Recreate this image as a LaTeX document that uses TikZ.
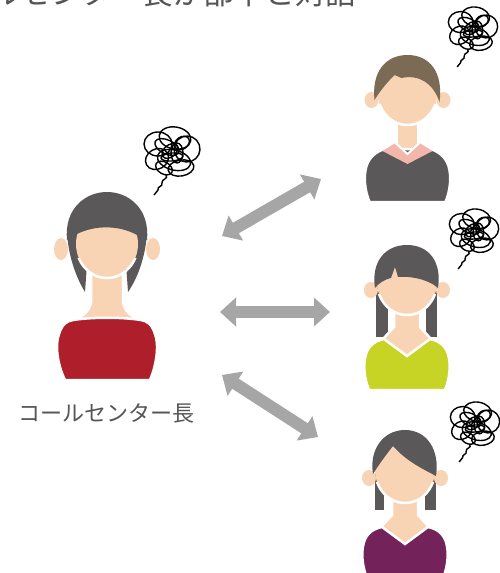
\documentclass[tikz,border=0pt]{standalone}
\usepackage{fontspec}
\newfontfamily\jpfont{Noto Sans CJK JP}
\usetikzlibrary{arrows.meta,positioning}

\definecolor{skin}{HTML}{F9D4B4}
\definecolor{hairgray}{HTML}{5B5859}
\definecolor{hairbrown}{HTML}{7B6B55}
\definecolor{shirtred}{HTML}{AF1F2B}
\definecolor{shirtgray}{HTML}{5B5859}
\definecolor{collarpink}{HTML}{F2B7AA}
\definecolor{shirtlime}{HTML}{C8D425}
\definecolor{shirtplum}{HTML}{73225A}
\definecolor{arrowgray}{HTML}{A6A6A6}
\definecolor{textgray}{HTML}{555555}

% tangled worry lines, #1 centre, #2 scale
\newcommand{\scribble}[2]{%
  \begin{scope}[shift={#1}, scale=#2, line width=1.4pt, black]
    \foreach \dx/\dy/\rx/\ry/\a in {-14/-9/14/12/0, 3/-15/16/11/-10, 15/-4/13/13/20,
        -15/6/12/10/30, 2/7/17/10/-15, 9/15/13/8/10, -2/-2/9/6/40, -8/15/9/6/-30,
        5/0/6/10/0, -5/-6/13/7/-25, 10/-10/8/6/35, 0/4/11/4/5}
      \draw[rotate around={\a:(\dx,\dy)}] (\dx,\dy) ellipse [x radius=\rx, y radius=\ry];
    \draw (-6,22) .. controls (-3,26) and (-11,26) .. (-10,30)
      .. controls (-9,34) and (-15,33) .. (-14,37) -- (-18,42);
  \end{scope}}

% parts shared by the three staff figures
\newcommand{\staffears}{%
  \fill[skin] (-36,8) ellipse (7 and 8);
  \fill[skin] (36,8) ellipse (7 and 8);}
\newcommand{\staffface}{%
  \fill[skin] (0,0) ellipse (30 and 33);
  \begin{scope}
    \clip (-40,12) rectangle (40,45);
    \draw[white, line width=2.5pt] (0,0) ellipse (30 and 33);
  \end{scope}}
\newcommand{\vnecktop}[1]{%
  \filldraw[skin, draw=white, line width=2.5pt] (-13,22) -- (13,22) -- (13,45) -- (24,57)
    -- (0,75) -- (-24,57) -- (-13,45) -- cycle;
  \filldraw[#1, draw=white, line width=2.5pt] (-38,108) .. controls (-43,96) and (-44,82) .. (-41,72)
    .. controls (-38,63) and (-32,59) .. (-23,57) -- (0,74) -- (23,57)
    .. controls (32,59) and (38,63) .. (41,72) .. controls (44,82) and (43,96) .. (38,108) -- cycle;}

\begin{document}
\begin{tikzpicture}[x=1pt,y=-1pt]
\tikzstyle{talk}=[arrowgray, line width=12pt, {Triangle[width=28pt,length=16pt]}-{Triangle[width=28pt,length=16pt]}]
\tikzstyle{caption}=[textgray, inner sep=0]
\useasboundingbox (0,0) rectangle (500,573);
\clip (0,0) rectangle (500,573);
\fill[white] (0,0) rectangle (500,573);

% heading, runs off the top edge
\node[caption, anchor=base west, font=\jpfont\fontsize{30.5}{30.5}\selectfont] (title) at (-71,4) {コールセンター長が部下と対話};

% call centre manager
\coordinate (boss) at (107,244);
\begin{scope}[shift={(boss)}]
  \fill[hairgray] (-40,-10) .. controls (-38,15) and (-30,35) .. (-22,48) -- (-20,20) -- (-25,-10) -- cycle;
  \fill[hairgray] (40,-10) .. controls (38,15) and (30,35) .. (21,48) -- (19,20) -- (25,-10) -- cycle;
  \fill[skin] (-46,5) ellipse (7 and 11);
  \fill[skin] (46,5) ellipse (7 and 11);
  \filldraw[skin, draw=white, line width=2.5pt] (-16,28) -- (16,28) -- (16,58) .. controls (18,68) and (24,72) .. (32,75)
    -- (-32,75) .. controls (-24,72) and (-18,68) .. (-16,58) -- cycle;
  \filldraw[shirtred, draw=white, line width=2.5pt] (-42,136) .. controls (-50,120) and (-52,100) .. (-48,90)
    .. controls (-45,80) and (-40,77) .. (-34,76) .. controls (-15,73) and (15,73) .. (34,76)
    .. controls (40,77) and (45,80) .. (48,90) .. controls (52,100) and (50,120) .. (43,136) -- cycle;
  \fill[skin] (0,0) ellipse (31 and 34);
  \begin{scope}
    \clip (-45,14) rectangle (45,45);
    \draw[white, line width=2.5pt] (0,0) ellipse (31 and 34);
  \end{scope}
  \fill[hairgray] (-40,-4) .. controls (-43,-35) and (-22,-52) .. (0,-52) .. controls (22,-52) and (43,-35) .. (40,-4)
    -- (30,-9) .. controls (12,-19) and (-12,-19) .. (-30,-10) -- cycle;
\end{scope}
\node[caption, font=\jpfont\fontsize{22}{22}\selectfont] (bosslabel) at (107,413) {コールセンター長};

% staff: man in dark jumper
\coordinate (staff1) at (407.5,92);
\begin{scope}[shift={(staff1)}]
  \staffears
  \filldraw[skin, draw=white, line width=2.5pt] (-11,20) rectangle (11,60);
  \filldraw[shirtgray, draw=white, line width=2.5pt] (-38,110) .. controls (-43,98) and (-44,84) .. (-41,74)
    .. controls (-38,65) and (-32,60) .. (-23,57) -- (23,57)
    .. controls (32,60) and (38,65) .. (41,74) .. controls (44,84) and (43,98) .. (38,110) -- cycle;
  \fill[collarpink] (-25,59) -- (-12,51) -- (0,62) -- (12,51) -- (25,59) -- (0,72) -- cycle;
  \draw[white, line width=2pt] (-12,51) -- (0,62) -- (12,51);
  \staffface
  \fill[hairbrown] (-33,8) .. controls (-36,-20) and (-22,-37) .. (0,-37) .. controls (22,-37) and (36,-20) .. (32,10)
    .. controls (26,-8) and (12,-18) .. (-6,-14) -- (-13,-17) .. controls (-22,-8) and (-28,0) .. (-33,8) -- cycle;
\end{scope}

% staff: woman in lime top
\coordinate (staff2) at (407,282);
\begin{scope}[shift={(staff2)}]
  \fill[hairgray] (-31,-5) rectangle (-19,55);
  \fill[hairgray] (19,-5) rectangle (30,55);
  \staffears
  \vnecktop{shirtlime}
  \staffface
  \fill[hairgray] (-32,6) .. controls (-36,-20) and (-22,-37) .. (0,-37) .. controls (22,-37) and (35,-20) .. (31,6)
    .. controls (20,-4) and (0,-6) .. (-9,-5) -- (-12,-15) -- (-16,-4) .. controls (-24,-2) and (-29,2) .. (-32,6) -- cycle;
\end{scope}

% staff: woman in plum top
\coordinate (staff3) at (405,470);
\begin{scope}[shift={(staff3)}]
  \fill[hairgray] (-30,-5) rectangle (-21,40);
  \fill[hairgray] (20,-5) rectangle (31,40);
  \staffears
  \vnecktop{shirtplum}
  \staffface
  \fill[hairgray] (-32,4) .. controls (-36,-20) and (-22,-40) .. (0,-40) .. controls (22,-40) and (35,-20) .. (31,6)
    .. controls (20,0) and (2,-8) .. (-12,-24) .. controls (-20,-14) and (-27,-4) .. (-32,4) -- cycle;
\end{scope}

% worries
\scribble{(172,153)}{1}
\foreach \x/\y in {473/30,474/232,475/425}
  {\scribble{(\x,\y)}{0.88}}

% talk arrows
\coordinate (a1) at (222,236);
\coordinate (b1) at (321,179);
\coordinate (a2) at (220,312);
\coordinate (b2) at (330,312);
\coordinate (a3) at (222,375);
\coordinate (b3) at (318,437);
\foreach \from/\to in {a1/b1,a2/b2,a3/b3}
  \draw[talk] (\from) -- (\to);
\end{tikzpicture}
\end{document}
